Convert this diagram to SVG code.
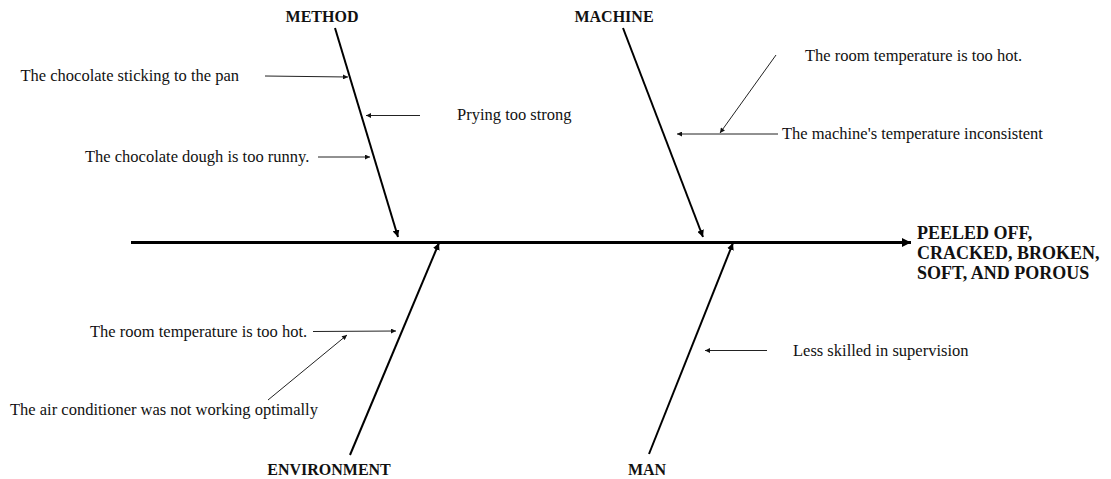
<svg xmlns="http://www.w3.org/2000/svg" width="1111" height="479" viewBox="0 0 1111 479">
<style>
.t{font-family:"Liberation Serif","Times New Roman",serif;font-size:16.5px;fill:#111}
.b{font-family:"Liberation Serif","Times New Roman",serif;font-size:16px;font-weight:bold;fill:#111}
.e{font-family:"Liberation Serif","Times New Roman",serif;font-size:18px;font-weight:bold;fill:#111}
.spine{stroke:#000;stroke-width:3;fill:none}
.bone{stroke:#000;stroke-width:2;fill:none}
.thin{stroke:#222;stroke-width:1;fill:none}
</style>
<defs>
<marker id="ah" markerUnits="userSpaceOnUse" viewBox="0 0 10 10" refX="10" refY="5" markerWidth="7" markerHeight="7" orient="auto"><path d="M0,0 L10,5 L0,10 z" fill="#000"/></marker>
<marker id="ahs" markerUnits="userSpaceOnUse" viewBox="0 0 10 10" refX="10" refY="5" markerWidth="6" markerHeight="5" orient="auto"><path d="M0,0 L10,5 L0,10 z" fill="#111"/></marker>
<marker id="ahb" markerUnits="userSpaceOnUse" viewBox="0 0 10 10" refX="10" refY="5" markerWidth="10" markerHeight="9" orient="auto"><path d="M0,0 L10,5 L0,10 z" fill="#000"/></marker>
</defs>
<rect width="1111" height="479" fill="#fff"/>
<g id="connectors">
<line class="spine" x1="131" y1="242.5" x2="911" y2="242.5" marker-end="url(#ahb)"/>
<line class="bone" x1="335" y1="28" x2="398" y2="237" marker-end="url(#ah)"/>
<line class="bone" x1="623" y1="28" x2="703" y2="237" marker-end="url(#ah)"/>
<line class="bone" x1="350" y1="455" x2="439" y2="243" marker-end="url(#ah)"/>
<line class="bone" x1="649" y1="454" x2="733" y2="243" marker-end="url(#ah)"/>
<line class="thin" x1="265" y1="76" x2="348" y2="77" marker-end="url(#ahs)"/>
<line class="thin" x1="420" y1="115.5" x2="366" y2="115.5" marker-end="url(#ahs)"/>
<line class="thin" x1="318" y1="157" x2="370" y2="157" marker-end="url(#ahs)"/>
<line class="thin" x1="778" y1="134" x2="677" y2="134" marker-end="url(#ahs)"/>
<line class="thin" x1="776" y1="55" x2="720" y2="133" marker-end="url(#ahs)"/>
<line class="thin" x1="313" y1="331.5" x2="396" y2="331" marker-end="url(#ahs)"/>
<line class="thin" x1="268" y1="400" x2="347" y2="335" marker-end="url(#ahs)"/>
<line class="thin" x1="767" y1="350.5" x2="705" y2="350.5" marker-end="url(#ahs)"/>
</g>
<g id="effect"><text class="e" x="917" y="239">PEELED OFF,</text><text class="e" x="917" y="259">CRACKED, BROKEN,</text><text class="e" x="917" y="279">SOFT, AND POROUS</text></g>
<g id="method"><text class="b" x="322" y="22" text-anchor="middle">METHOD</text></g>
<g id="machine"><text class="b" x="614" y="22" text-anchor="middle">MACHINE</text></g>
<g id="environment"><text class="b" x="329" y="475" text-anchor="middle">ENVIRONMENT</text></g>
<g id="man"><text class="b" x="647" y="475" text-anchor="middle">MAN</text></g>
<g id="cause-sticking"><text class="t" x="20.5" y="81">The chocolate sticking to the pan</text></g>
<g id="cause-prying"><text class="t" x="457" y="120">Prying too strong</text></g>
<g id="cause-runny"><text class="t" x="85" y="162">The chocolate dough is too runny.</text></g>
<g id="cause-room-hot-1"><text class="t" x="805" y="61">The room temperature is too hot.</text></g>
<g id="cause-machine-temp"><text class="t" x="782" y="139">The machine's temperature inconsistent</text></g>
<g id="cause-room-hot-2"><text class="t" x="90" y="337">The room temperature is too hot.</text></g>
<g id="cause-aircon"><text class="t" x="10" y="415">The air conditioner was not working optimally</text></g>
<g id="cause-skill"><text class="t" x="793" y="356">Less skilled in supervision</text></g>
</svg>
